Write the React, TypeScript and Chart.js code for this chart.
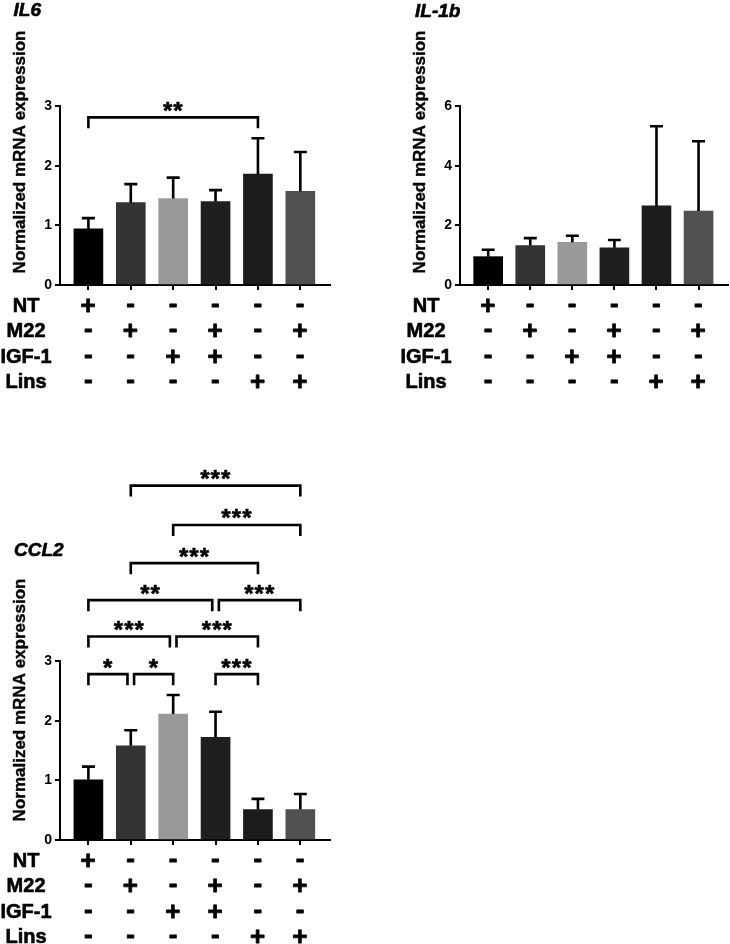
import React, { useEffect, useRef } from 'react';
import { Chart, registerables } from 'chart.js';

Chart.register(...registerables);

const FONT = '"Liberation Sans", Arial, Helvetica, sans-serif';

// ---- data ----
const rowLabels = ['NT', 'M22', 'IGF-1', 'Lins'];
const ntRow = ['+', '-', '-', '-', '-', '-'];
const m22Row = ['-', '+', '-', '+', '-', '+'];
const igf1Row = ['-', '-', '+', '+', '-', '-'];
const linsRow = ['-', '-', '-', '-', '+', '+'];
const groupIndex = [0, 1, 2, 3, 4, 5];
const barColors = ['#000000', '#333333', '#999999', '#1f1f1f', '#1c1c1c', '#505050'];

const il6Mean = [0.94, 1.38, 1.45, 1.4, 1.86, 1.57];
const il6Sd = [0.18, 0.31, 0.35, 0.19, 0.6, 0.66];
const il6Ticks = [0, 1, 2, 3];

const il1bMean = [0.95, 1.32, 1.43, 1.25, 2.65, 2.48];
const il1bSd = [0.23, 0.25, 0.22, 0.26, 2.67, 2.34];
const il1bTicks = [0, 2, 4, 6];

const ccl2Mean = [1.01, 1.58, 2.11, 1.72, 0.51, 0.51];
const ccl2Sd = [0.22, 0.26, 0.32, 0.43, 0.18, 0.26];
const ccl2Ticks = [0, 1, 2, 3];

type Bracket = { from: number; to: number; stars: string; y: number };
const il6Brackets: Bracket[] = [{ from: 0, to: 4, stars: '**', y: 2.81 }];
const il1bBrackets: Bracket[] = [];
const ccl2Brackets: Bracket[] = [
  { from: 0, to: 1, stars: '*', y: 2.78 },
  { from: 1, to: 2, stars: '*', y: 2.78 },
  { from: 3, to: 4, stars: '***', y: 2.78 },
  { from: 0, to: 2, stars: '***', y: 3.41 },
  { from: 2, to: 4, stars: '***', y: 3.41 },
  { from: 0, to: 3, stars: '**', y: 4.02 },
  { from: 3, to: 5, stars: '***', y: 4.02 },
  { from: 1, to: 4, stars: '***', y: 4.64 },
  { from: 2, to: 5, stars: '***', y: 5.28 },
  { from: 1, to: 5, stars: '***', y: 5.94 },
];

const yTitle = 'Normalized mRNA expression';

type PanelProps = {
  title: string;
  mean: number[];
  sd: number[];
  yTicks: number[];
  brackets: Bracket[];
  left: number;
  top: number;
  w: number;
  h: number;
  chartTop: number;
  chartBottom: number;
  chartRight: number;
  titleX: number;
  titleY: number;
  titleSize: number;
  yTitleY: number;
};

function drawCentered(ctx: CanvasRenderingContext2D, text: string, cx: number, cy: number, stroke = 0) {
  ctx.textAlign = 'left';
  ctx.textBaseline = 'alphabetic';
  const m = ctx.measureText(text);
  const w = m.actualBoundingBoxLeft + m.actualBoundingBoxRight;
  const x = cx - w / 2 + m.actualBoundingBoxLeft;
  const y = cy + (m.actualBoundingBoxAscent - m.actualBoundingBoxDescent) / 2;
  ctx.fillText(text, x, y);
  if (stroke > 0) {
    ctx.lineWidth = stroke;
    ctx.strokeText(text, x, y);
  }
}

function makePlugin(p: PanelProps) {
  return {
    id: 'prismAnnot',
    afterDatasetsDraw(chart: any) {
      const ctx: CanvasRenderingContext2D = chart.ctx;
      const ys = chart.scales.y;
      const meta = chart.getDatasetMeta(0);
      ctx.save();
      ctx.strokeStyle = '#000';
      ctx.lineWidth = 2.6;
      p.mean.forEach((m, i) => {
        const px = meta.data[i].x;
        const top = ys.getPixelForValue(m);
        const et = ys.getPixelForValue(m + p.sd[i]);
        ctx.beginPath();
        ctx.moveTo(px, top);
        ctx.lineTo(px, et);
        ctx.moveTo(px - 6.5, et);
        ctx.lineTo(px + 6.5, et);
        ctx.stroke();
      });
      ctx.restore();
    },
    afterDraw(chart: any) {
      const ctx: CanvasRenderingContext2D = chart.ctx;
      const xs = chart.scales.x;
      const ys = chart.scales.y;
      const area = chart.chartArea;
      ctx.save();
      ctx.fillStyle = '#000';
      ctx.strokeStyle = '#000';
      ctx.lineJoin = 'round';

      // title
      ctx.font = `italic bold ${p.titleSize}px ${FONT}`;
      ctx.textAlign = 'left';
      ctx.textBaseline = 'alphabetic';
      ctx.fillText(p.title, p.titleX, p.titleY);
      ctx.lineWidth = 0.6;
      ctx.strokeText(p.title, p.titleX, p.titleY);

      // y axis title
      ctx.save();
      ctx.translate(20, p.yTitleY);
      ctx.rotate(-Math.PI / 2);
      ctx.font = `bold 17px ${FONT}`;
      ctx.textAlign = 'center';
      ctx.textBaseline = 'middle';
      ctx.fillText(yTitle, 0, 0);
      ctx.lineWidth = 0.4;
      ctx.strokeText(yTitle, 0, 0);
      ctx.restore();

      // brackets
      p.brackets.forEach((b) => {
        let x1 = xs.getPixelForValue(b.from);
        let x2 = xs.getPixelForValue(b.to);
        if (p.brackets.some((o) => o !== b && o.y === b.y && o.from === b.to)) x2 -= 3.3;
        if (p.brackets.some((o) => o !== b && o.y === b.y && o.to === b.from)) x1 += 3.3;
        const ly = ys.getPixelForValue(b.y);
        ctx.lineWidth = 2.6;
        ctx.lineJoin = 'miter';
        ctx.beginPath();
        ctx.moveTo(x1, ly + 11);
        ctx.lineTo(x1, ly);
        ctx.lineTo(x2, ly);
        ctx.lineTo(x2, ly + 11);
        ctx.stroke();
        ctx.lineJoin = 'round';
        ctx.font = `bold 24px ${FONT}`;
        const n = b.stars.length;
        const cx = (x1 + x2) / 2;
        for (let k = 0; k < n; k++) {
          drawCentered(ctx, '*', cx + (k - (n - 1) / 2) * 10.4, ly - 11, 0.6);
        }
      });

      // treatment table
      const rows = [ntRow, m22Row, igf1Row, linsRow];
      rows.forEach((row, r) => {
        const cy = area.bottom + 20 + 25.3 * r;
        ctx.font = `bold 20px ${FONT}`;
        drawCentered(ctx, rowLabels[r], 26.5, cy, 0.6);
        ctx.font = `bold 26px ${FONT}`;
        row.forEach((s, i) => {
          drawCentered(ctx, s, xs.getPixelForValue(groupIndex[i]), cy, 0.8);
        });
      });
      ctx.restore();
    },
  };
}

function Panel(p: PanelProps) {
  const ref = useRef<HTMLCanvasElement>(null);
  useEffect(() => {
    const canvas = ref.current!;
    const gridCfg = {
      display: true,
      drawOnChartArea: false,
      drawTicks: true,
      tickLength: 5,
      tickColor: '#000',
      tickWidth: 2,
      color: '#000',
      lineWidth: 2,
      offset: false,
    };
    const borderCfg = { display: true, color: '#000', width: 2 };
    const chart = new Chart(canvas, {
      type: 'bar',
      data: {
        datasets: [
          {
            data: p.mean.map((v, i) => ({ x: groupIndex[i], y: v })),
            backgroundColor: barColors,
            borderWidth: 0,
            barThickness: 29,
          } as any,
        ],
      },
      options: {
        responsive: false,
        animation: false,
        layout: { padding: { left: 0, top: p.chartTop, right: p.w - p.chartRight, bottom: 0 } },
        plugins: { legend: { display: false }, tooltip: { enabled: false } },
        scales: {
          x: {
            type: 'linear',
            min: -0.67,
            max: 5.7,
            offset: false,
            afterBuildTicks: (s: any) => {
              s.ticks = groupIndex.map((v) => ({ value: v }));
            },
            afterFit: (s: any) => {
              s.height = p.h - p.chartBottom;
            },
            grid: gridCfg,
            border: borderCfg,
            ticks: { display: false },
          } as any,
          y: {
            type: 'linear',
            min: p.yTicks[0],
            max: p.yTicks[p.yTicks.length - 1],
            afterBuildTicks: (s: any) => {
              s.ticks = p.yTicks.map((v) => ({ value: v }));
            },
            afterFit: (s: any) => {
              s.width = 60;
            },
            grid: gridCfg,
            border: borderCfg,
            ticks: {
              color: '#000',
              padding: 3,
              font: { family: FONT, size: 14, weight: 'bold' },
            },
          } as any,
        },
      },
      plugins: [makePlugin(p)],
    });
    return () => chart.destroy();
  }, []);
  return (
    <canvas
      ref={ref}
      width={p.w}
      height={p.h}
      style={{ position: 'absolute', left: p.left, top: p.top, width: p.w, height: p.h }}
    />
  );
}

export default function App() {
  return (
    <div style={{ position: 'absolute', left: 0, top: 0, width: 730, height: 944, background: '#fff' }}>
      <Panel
        title="IL6"
        mean={il6Mean}
        sd={il6Sd}
        yTicks={il6Ticks}
        brackets={il6Brackets}
        left={0}
        top={0}
        w={360}
        h={400}
        chartTop={106}
        chartBottom={285}
        chartRight={330}
        titleX={13.5}
        titleY={15.5}
        titleSize={19}
        yTitleY={152}
      />
      <Panel
        title="IL-1b"
        mean={il1bMean}
        sd={il1bSd}
        yTicks={il1bTicks}
        brackets={il1bBrackets}
        left={400}
        top={0}
        w={330}
        h={400}
        chartTop={106}
        chartBottom={285}
        chartRight={328}
        titleX={15}
        titleY={16.5}
        titleSize={19}
        yTitleY={152}
      />
      <Panel
        title="CCL2"
        mean={ccl2Mean}
        sd={ccl2Sd}
        yTicks={ccl2Ticks}
        brackets={ccl2Brackets}
        left={0}
        top={460}
        w={360}
        h={484}
        chartTop={201}
        chartBottom={380}
        chartRight={330}
        titleX={14}
        titleY={96}
        titleSize={19}
        yTitleY={240}
      />
    </div>
  );
}
